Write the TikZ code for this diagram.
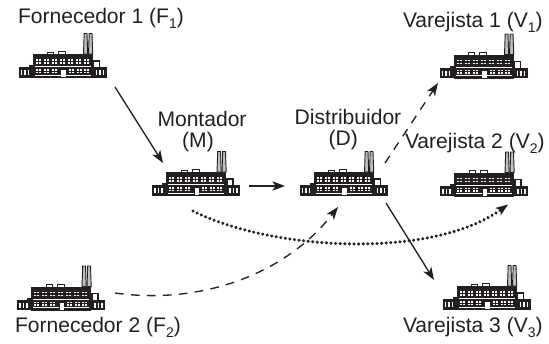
\documentclass[tikz,border=0pt]{standalone}
\usepackage{fontspec}
\setmainfont{Liberation Sans}
\usetikzlibrary{arrows.meta}
\definecolor{ink}{HTML}{231F20}
\newcommand{\sbs}[1]{\raisebox{-0.28em}{\fontsize{10.5pt}{10.5pt}\selectfont #1}}
\tikzset{
  x=0.75pt,y=-0.75pt,
  lbl/.style={inner sep=0pt,outer sep=0pt,text=ink,font=\fontsize{15.8pt}{15.75pt}\selectfont},
  plant/.style={inner sep=0pt,outer sep=0pt,minimum width=66pt,minimum height=34pt},
  link/.style={draw=ink,line width=1pt,-{Stealth[length=9.5pt,width=7pt,inset=2.5pt]}},
  dashlink/.style={link,dash pattern=on 6.5pt off 5.5pt},
  dotlink/.style={draw=ink,line width=2.5pt,line cap=round,dash pattern=on 0.05pt off 3.4pt,-{Stealth[length=9.5pt,width=7pt,inset=2.5pt,line cap=butt,line width=0pt,sep=-2pt]}},
  factory/.pic={
    \fill[ink] (14,21) rectangle (74,45);
    \fill[ink] (0,34) rectangle (14,44.5);
    \fill[ink] (74,34) rectangle (88,44.5);
    \fill[ink] (10,32) rectangle (14,34.5);
    \draw[ink,line width=0.8pt,fill=white] (75,34) -- (75,28) -- (81,28) -- (81,34);
    \draw[ink,line width=0.7pt,fill=white] (29,21) -- (29,19.3) -- (35,19.3) -- (35,21);
    \draw[ink,line width=0.7pt,fill=white] (40,21) -- (40,18.8) -- (47,18.8) -- (47,21);
    \draw[ink,line width=0.7pt,fill=black!25] (65,21) -- (65.7,0.5) -- (68.5,0.5) -- (69.2,21) -- cycle;
    \draw[ink,line width=0.7pt,fill=black!25] (70,21) -- (70.7,0.5) -- (73.5,0.5) -- (74.2,21) -- cycle;
    \fill[white] (16,33.2) rectangle (72,33.7);
    \fill[white] (16,41.9) rectangle (42,42.4);
    \fill[white] (47,41.9) rectangle (72,42.4);
    \foreach \xa in {17,25,33,41,49,57,65}{
      \foreach \ya in {26.2,29}{
        \fill[white] (\xa,\ya) rectangle +(2,1.6);
        \fill[white] (\xa+3.2,\ya) rectangle +(2,1.6);
      }
    }
    \foreach \xa in {17,25,33,50,58,65}{
      \foreach \ya in {36,38.8}{
        \fill[white] (\xa,\ya) rectangle +(2,1.6);
        \fill[white] (\xa+3.2,\ya) rectangle +(2,1.6);
      }
    }
    \fill[white] (42.5,37) rectangle (47,44);
    \foreach \xa in {2,5.5,9,77,80.5,84}{
      \fill[white] (\xa,37) rectangle +(1.8,5);
    }
  }
}
\begin{document}
\begin{tikzpicture}
\path[use as bounding box] (0,0) rectangle (549,343);
% factories
\node[plant] (F1) at (62.5,55.5) {};
\node[plant] (F2) at (61,288) {};
\node[plant] (M) at (196,173.5) {};
\node[plant] (D) at (343.5,173.5) {};
\node[plant] (V1) at (483.5,56) {};
\node[plant] (V2) at (484,174) {};
\node[plant] (V3) at (486.5,287.5) {};
\pic at (18.5,33) {factory};
\pic at (17,265.5) {factory};
\pic at (152,151) {factory};
\pic at (299.5,151) {factory};
\pic at (439.5,33.5) {factory};
\pic at (440,151.5) {factory};
\pic at (442.5,265) {factory};
% labels
\node[lbl,anchor=base west] (lF1) at (18,23) {Fornecedor 1 (F\sbs{1})};
\node[lbl,anchor=base west] (lF2) at (15,332) {Fornecedor 2 (F\sbs{2})};
\node[lbl,anchor=base west] (lV1) at (403,27) {Varejista 1 (V\sbs{1})};
\node[lbl,anchor=base west] (lV2) at (405,148) {Varejista 2 (V\sbs{2})};
\node[lbl,anchor=base west] (lV3) at (403,332) {Varejista 3 (V\sbs{3})};
\node[lbl,align=center,anchor=south] (lM) at (202,152) {Montador\\(M)\hspace*{6pt}};
\node[lbl,align=center,anchor=south] (lD) at (348,150) {Distribuidor\\(D)\hspace*{7pt}};
% connector ends
\coordinate (a1) at (115,87);  \coordinate (a2) at (163,163);
\coordinate (b1) at (249,186); \coordinate (b2) at (285,186);
\coordinate (c1) at (385,163); \coordinate (c2) at (438,83);
\coordinate (d1) at (386,203); \coordinate (d2) at (434,280);
\coordinate (e1) at (115,293); \coordinate (e2) at (338,207);
\coordinate (f1) at (193,211); \coordinate (f2) at (506,206);
% connectors
\draw[link] (a1) -- (a2);
\draw[link] (b1) -- (b2);
\draw[dashlink] (c1) -- (c2);
\draw[link] (d1) -- (d2);
\draw[dashlink] (e1) .. controls (200,305) and (285,275) .. (e2);
\draw[dotlink] (f1) .. controls (270,250) and (430,260) .. (f2);
\end{tikzpicture}
\end{document}
